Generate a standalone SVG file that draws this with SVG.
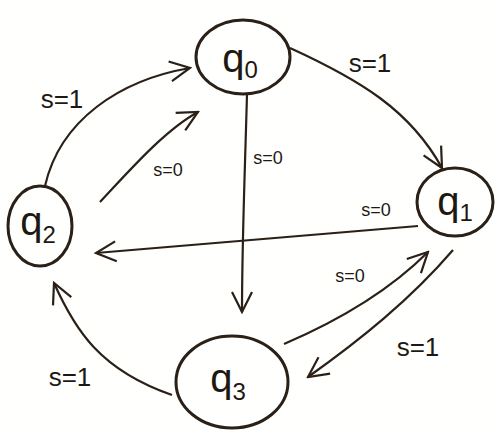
<svg xmlns="http://www.w3.org/2000/svg" width="499" height="432" viewBox="0 0 499 432">
<style>
.n{fill:none;stroke:#2a2018;stroke-width:3}
.e{fill:none;stroke:#2a2018;stroke-width:2.2}
.t{font-family:"Liberation Sans",sans-serif;font-size:40px;fill:#1e1812;text-anchor:middle}
.s{font-size:24px}
.l{font-family:"Liberation Sans",sans-serif;font-size:26px;fill:#1e1812;text-anchor:middle}
.m{font-size:18px}
</style>
<defs>
<marker id="b" viewBox="0 0 24 24" refX="22" refY="12" markerWidth="24" markerHeight="24" markerUnits="userSpaceOnUse" orient="auto"><path d="M2,2 L22,12 L2,22" fill="none" stroke="#2a2018" stroke-width="2.2"/></marker>
</defs>
<rect width="499" height="432" fill="#fffffd"/>
<g id="q0"><ellipse class="n" cx="243" cy="57" rx="47" ry="37"/><text class="t" x="240" y="72">q<tspan class="s" dy="6">0</tspan></text></g>
<g id="q1"><ellipse class="n" cx="455" cy="202" rx="38" ry="34"/><text class="t" x="455" y="215">q<tspan class="s" dy="6">1</tspan></text></g>
<g id="q2"><ellipse class="n" cx="40" cy="226" rx="32" ry="40"/><text class="t" x="38" y="235">q<tspan class="s" dy="8">2</tspan></text></g>
<g id="q3"><ellipse class="n" cx="232" cy="382" rx="56" ry="46"/><text class="t" x="228" y="392">q<tspan class="s" dy="8">3</tspan></text></g>
<g id="edges">
<path class="e" d="M45,186 C60,120 120,80 190,68" marker-end="url(#b)"/>
<path class="e" d="M100,202 C130,170 165,130 198,112" marker-end="url(#b)"/>
<path class="e" d="M247,94 C245,170 242,240 242,312" marker-end="url(#b)"/>
<path class="e" d="M290,48 C360,80 410,110 442,168" marker-end="url(#b)"/>
<path class="e" d="M418,226 L96,253" marker-end="url(#b)"/>
<path class="e" d="M284,344 C340,320 390,290 428,252" marker-end="url(#b)"/>
<path class="e" d="M453,250 C410,300 360,340 308,377" marker-end="url(#b)"/>
<path class="e" d="M172,395 C100,370 75,330 54,283" marker-end="url(#b)"/>
<text class="l" x="62" y="108">s=1</text>
<text class="l m" x="168" y="176">s=0</text>
<text class="l m" x="268" y="164">s=0</text>
<text class="l" x="370" y="72">s=1</text>
<text class="l m" x="376" y="216">s=0</text>
<text class="l m" x="350" y="282">s=0</text>
<text class="l" x="418" y="356">s=1</text>
<text class="l" x="70" y="386">s=1</text>
</g>
</svg>
